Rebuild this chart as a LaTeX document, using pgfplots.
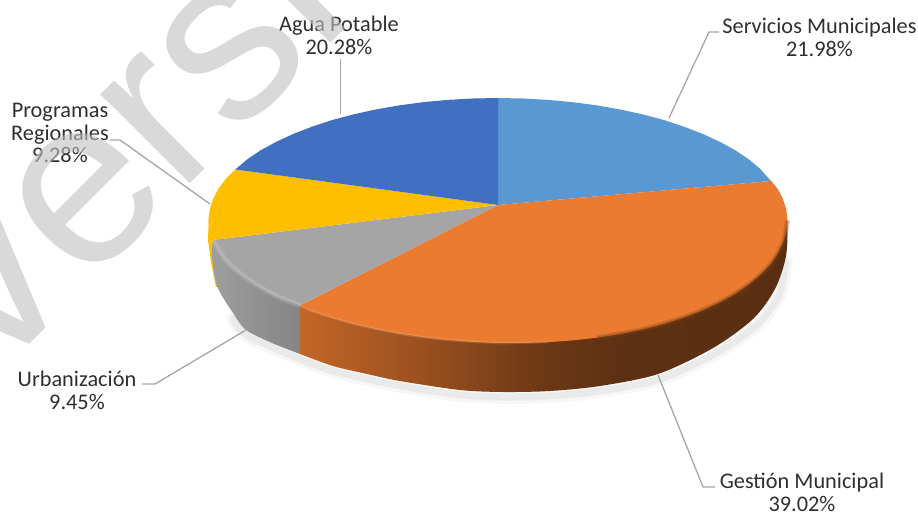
\documentclass[border=0pt]{standalone}
\usepackage{pgfplots}
\pgfplotsset{compat=1.18}
\usepackage{fontspec}
\setmainfont{Carlito}
\newfontfamily\wmfont{Liberation Sans}
\definecolor{cBlue}{HTML}{4070BF}
\definecolor{cLight}{HTML}{5A98D3}
\definecolor{cOrange}{HTML}{EB7B30}
\definecolor{cGray}{HTML}{A5A5A5}
\definecolor{cYellow}{HTML}{FDBF00}
\definecolor{cLead}{HTML}{A6A6A6}
\definecolor{cText}{HTML}{2F2F2F}
\definecolor{cMark}{HTML}{C0C0C0}
\pgfdeclarehorizontalshading{orangeside}{100bp}{
  rgb(0bp)=(.76,.40,.15); rgb(25bp)=(.76,.40,.15); rgb(38bp)=(.60,.31,.12);
  rgb(50bp)=(.42,.22,.08); rgb(58bp)=(.37,.19,.07); rgb(75bp)=(.35,.18,.07); rgb(100bp)=(.35,.18,.07)}
\tikzset{
  lab/.style={font=\fontsize{22.4}{23}\selectfont, text=cText, align=center, inner sep=0pt},
  lead/.style={draw=cLead, line width=1.3bp},
  face/.style={draw=none, fill=#1},
}
\begin{document}
\begin{tikzpicture}
\begin{axis}[scale only axis, width=918bp, height=512bp, hide axis,
  xmin=0, xmax=918, ymin=0, ymax=512, y dir=reverse, clip=false]
\path[use as bounding box] (axis cs:0,0) rectangle (axis cs:918,512);

% soft shadow under the disc
\addplot[smooth, draw=black, opacity=0.03, line width=14bp, line cap=round] coordinates {(786,262) (779,295) (757,325) (716,353) (660,379) (600,391) (550,396) (503,397) (460,395) (400,386) (367,379) (333,371) (300,359) (246,335) (233,318)};
\addplot[smooth, draw=black, opacity=0.05, line width=7bp, line cap=round] coordinates {(786,262) (779,295) (757,325) (716,353) (660,379) (600,391) (550,396) (503,397) (460,395) (400,386) (367,379) (333,371) (300,359) (246,335) (233,318)};

% side of the disc
\addplot[face=cYellow] coordinates {(209,213) (208,240) (211,262) (216,287) (222,285) (218,240) (214,225)} --cycle;
\addplot[smooth, draw=none, left color=black!38, right color=black!48] coordinates {(213,239) (212,256) (217,286) (233,313) (246,330) (272,343) (300,354)} -- (axis cs:300,305.5) --cycle;
\addplot[smooth, draw=none, shading=orangeside] coordinates {(771,181) (781,196) (787,222) (786,256) (775,289) (753,319) (713,348) (658,374) (600,386) (550,391) (503,392) (460,390) (400,381) (367,374) (333,366) (300,354)} -- (axis cs:300,305.5) --cycle;

% top faces
\addplot[face=cLight] coordinates {(498,205) (498,98) (523.2,98.5) (548.3,99.9) (572.9,102.2) (597,105.4) (620.3,109.5) (642.8,114.4) (664.1,120.1) (684,126.7) (702.7,133.9) (719.8,141.8) (735.2,150.2) (748.7,159.3) (760.4,169) (771,181)} --cycle;
\addplot[face=cOrange] coordinates {(498,205) (771,181) (777.6,188.8) (783,199.2) (786.4,209.8) (787.5,220.5) (786.4,231.8) (783,242.9) (777.6,253.7) (770.5,264.4) (760.4,274.7) (748.7,284.5) (735.2,293.8) (719.8,302.3) (702.7,310.3) (684,317.4) (664.1,323.9) (642.8,329.4) (620.3,334) (597,337.7) (572.9,340.4) (548.3,342.2) (523.2,343) (498,343) (472.8,342) (447.7,340) (423.1,337.2) (399,333.6) (375.7,329) (353.2,323.8) (331.9,317.9) (312,311.2) (300,305.5)} --cycle;
\addplot[face=cGray] coordinates {(498,205) (300,305.5) (276.2,296.1) (260.8,287.8) (247.3,279) (235.6,269.9) (226,260.4) (218.4,250.7) (213,240)} --cycle;
\addplot[face=cYellow] coordinates {(498,205) (213,240) (209.6,231) (208.5,220.5) (209.6,209.8) (213,199.2) (218.4,188.8) (226,178.6) (235.3,169.5)} --cycle;
\addplot[face=cBlue] coordinates {(498,205) (235.3,169.5) (247.3,159.3) (260.8,150.2) (276.2,141.8) (293.3,133.9) (312,126.7) (331.9,120.1) (353.2,114.4) (375.7,109.5) (399,105.4) (423.1,102.2) (447.7,99.9) (472.8,98.5) (498,98)} --cycle;

% bevel along the rim
\addplot[smooth, draw=white, opacity=0.09, line width=6bp] coordinates {(213,240) (226,260.4) (247.3,279) (276.2,296.1) (300,305.5)};
\addplot[smooth, draw=white, opacity=0.12, line width=3bp] coordinates {(213,240) (226,260.4) (247.3,279) (276.2,296.1) (300,305.5)};
\addplot[smooth, draw=white, opacity=0.12, line width=2.5bp] coordinates {(300,305.5) (312,311.2) (353.2,323.8) (399,333.6) (447.7,340) (498,343) (548.3,342.2)};
\addplot[smooth, draw=cOrange!55!black, opacity=0.25, line width=5bp] coordinates {(597,337.7) (642.8,329.4) (684,317.4) (719.8,302.3) (748.7,284.5) (770.5,264.4) (783,242.9) (787.5,220.5)};
\addplot[smooth, draw=cOrange!55!black, opacity=0.3, line width=2.5bp] coordinates {(597,337.7) (642.8,329.4) (684,317.4) (719.8,302.3) (748.7,284.5) (770.5,264.4) (783,242.9) (787.5,220.5)};

% leader lines
\addplot[lead] coordinates {(340.5,59) (340.5,114)};
\addplot[lead] coordinates {(110,140) (120,140) (210,204)};
\addplot[lead] coordinates {(142,384) (155,384) (246,330)};
\addplot[lead] coordinates {(658,375) (703,487) (715,487)};
\addplot[lead] coordinates {(669,118) (709,32) (719,32)};

% labels
\node[lab] at (axis cs:819.5,37) {Servicios Municipales\\21.98\%};
\node[lab] at (axis cs:339,35) {Agua Potable\\20.28\%};
\node[lab] at (axis cs:60,133) {Programas\\Regionales\\9.28\%};
\node[lab] at (axis cs:77,390) {Urbanización\\9.45\%};
\node[lab] at (axis cs:802,492) {Gestión Municipal\\39.02\%};

% watermark
\node[overlay, rotate=45, anchor=base west, inner sep=0pt, text=cMark, text opacity=0.6,
  font=\wmfont\fontsize{240}{240}\selectfont] at (axis cs:-19,393) {Versión};
\end{axis}
\end{tikzpicture}
\end{document}
